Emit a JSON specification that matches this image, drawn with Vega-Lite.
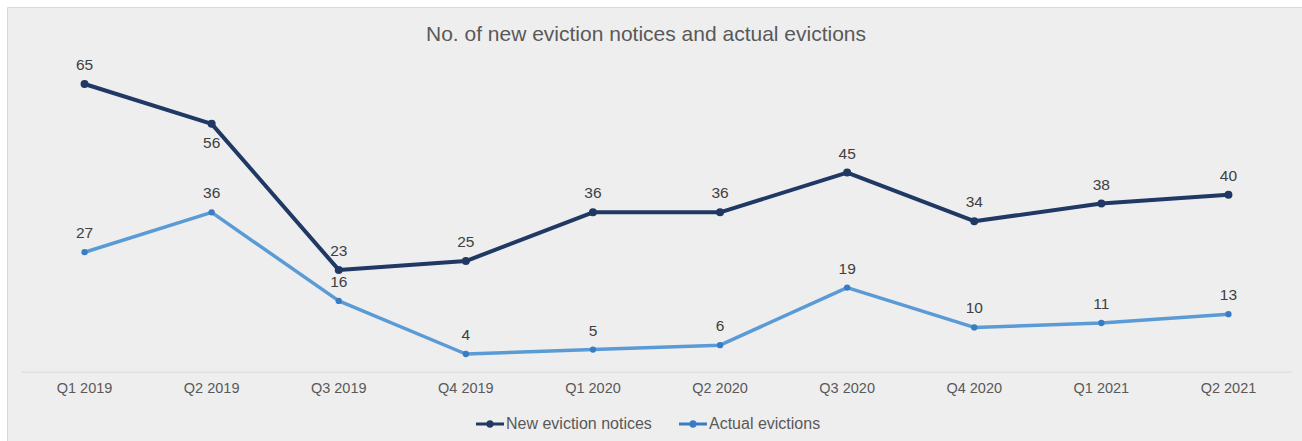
{
  "$schema": "https://vega.github.io/schema/vega-lite/v6.json",
  "autosize": "none",
  "width": 1300,
  "height": 440,
  "padding": {"left": 7, "top": 7, "right": 0, "bottom": 0},
  "background": "#ffffff",
  "config": {
    "view": {"fill": "#eeeeee", "stroke": "#d9d9d9", "strokeWidth": 1},
    "font": "Liberation Sans"
  },
  "title": {
    "text": "No. of new eviction notices and actual evictions",
    "orient": "top",
    "anchor": "middle",
    "frame": "group",
    "offset": 0,
    "baseline": "alphabetic",
    "dy": 54.5,
    "dx": -11,
    "font": "Liberation Sans",
    "fontSize": 21,
    "fontWeight": "normal",
    "color": "#595959"
  },
  "data": {
    "values": [
      {"quarter": "Q1 2019", "series": "New eviction notices", "value": 65},
      {"quarter": "Q2 2019", "series": "New eviction notices", "value": 56},
      {"quarter": "Q3 2019", "series": "New eviction notices", "value": 23},
      {"quarter": "Q4 2019", "series": "New eviction notices", "value": 25},
      {"quarter": "Q1 2020", "series": "New eviction notices", "value": 36},
      {"quarter": "Q2 2020", "series": "New eviction notices", "value": 36},
      {"quarter": "Q3 2020", "series": "New eviction notices", "value": 45},
      {"quarter": "Q4 2020", "series": "New eviction notices", "value": 34},
      {"quarter": "Q1 2021", "series": "New eviction notices", "value": 38},
      {"quarter": "Q2 2021", "series": "New eviction notices", "value": 40},
      {"quarter": "Q1 2019", "series": "Actual evictions", "value": 27},
      {"quarter": "Q2 2019", "series": "Actual evictions", "value": 36},
      {"quarter": "Q3 2019", "series": "Actual evictions", "value": 16},
      {"quarter": "Q4 2019", "series": "Actual evictions", "value": 4},
      {"quarter": "Q1 2020", "series": "Actual evictions", "value": 5},
      {"quarter": "Q2 2020", "series": "Actual evictions", "value": 6},
      {"quarter": "Q3 2020", "series": "Actual evictions", "value": 19},
      {"quarter": "Q4 2020", "series": "Actual evictions", "value": 10},
      {"quarter": "Q1 2021", "series": "Actual evictions", "value": 11},
      {"quarter": "Q2 2021", "series": "Actual evictions", "value": 13}
    ]
  },
  "encoding": {
    "x": {
      "field": "quarter",
      "type": "nominal",
      "sort": null,
      "scale": {"type": "band", "range": [14, 1285], "paddingInner": 0, "paddingOuter": 0},
      "axis": {
        "title": null,
        "orient": "bottom",
        "offset": -75.3,
        "labelAngle": 0,
        "ticks": false,
        "grid": false,
        "domainColor": "#d9d9d9",
        "domainWidth": 1,
        "labelFont": "Liberation Sans",
        "labelFontSize": 14.5,
        "labelColor": "#595959",
        "labelPadding": 10
      }
    },
    "y": {
      "field": "value",
      "type": "quantitative",
      "scale": {"domain": [0, 70], "range": [364.7, 54.9], "nice": false, "zero": true},
      "axis": null
    }
  },
  "layer": [
    {
      "mark": {"type": "line", "strokeCap": "round", "strokeJoin": "round"},
      "encoding": {
        "color": {
          "field": "series",
          "type": "nominal",
          "scale": {"domain": ["New eviction notices", "Actual evictions"], "range": ["#1f3864", "#5b9bd5"]},
          "legend": {
            "title": null,
            "orient": "none",
            "direction": "horizontal",
            "legendX": 469,
            "legendY": 403,
            "padding": 0,
            "columnPadding": 27,
            "labelOffset": 2,
            "labelFont": "Liberation Sans",
            "labelFontSize": 16,
            "labelColor": "#595959",
            "symbolType": "M-1,-0.11L1,-0.11L1,0.11L-1,0.11Z M-0.27,0A0.27,0.27,0,1,1,0.27,0A0.27,0.27,0,1,1,-0.27,0Z",
            "symbolSize": 784,
            "symbolStrokeWidth": 0,
            "encode": {
              "symbols": {
                "update": {
                  "fill": {"scale": "color", "field": "value"},
                  "fillOpacity": {"value": 1},
                  "strokeWidth": {"value": 0}
                }
              }
            }
          }
        },
        "strokeWidth": {
          "condition": {"test": "datum.series === 'Actual evictions'", "value": 3.5},
          "value": 4
        }
      }
    },
    {
      "mark": {"type": "point", "filled": true, "opacity": 1},
      "encoding": {
        "fill": {
          "field": "series",
          "type": "nominal",
          "scale": {"domain": ["New eviction notices", "Actual evictions"], "range": ["#1f3864", "#3a7cc4"]},
          "legend": null
        },
        "size": {
          "condition": {"test": "datum.series === 'Actual evictions'", "value": 40},
          "value": 64
        }
      }
    },
    {
      "transform": [{"filter": "!(datum.series === 'New eviction notices' && datum.quarter === 'Q2 2019')"}],
      "mark": {"type": "text", "dy": -19, "baseline": "middle", "align": "center", "font": "Liberation Sans", "fontSize": 15.5, "color": "#404040"},
      "encoding": {"text": {"field": "value", "type": "quantitative"}}
    },
    {
      "transform": [{"filter": "datum.series === 'New eviction notices' && datum.quarter === 'Q2 2019'"}],
      "mark": {"type": "text", "dy": 19, "baseline": "middle", "align": "center", "font": "Liberation Sans", "fontSize": 15.5, "color": "#404040"},
      "encoding": {"text": {"field": "value", "type": "quantitative"}}
    }
  ]
}
